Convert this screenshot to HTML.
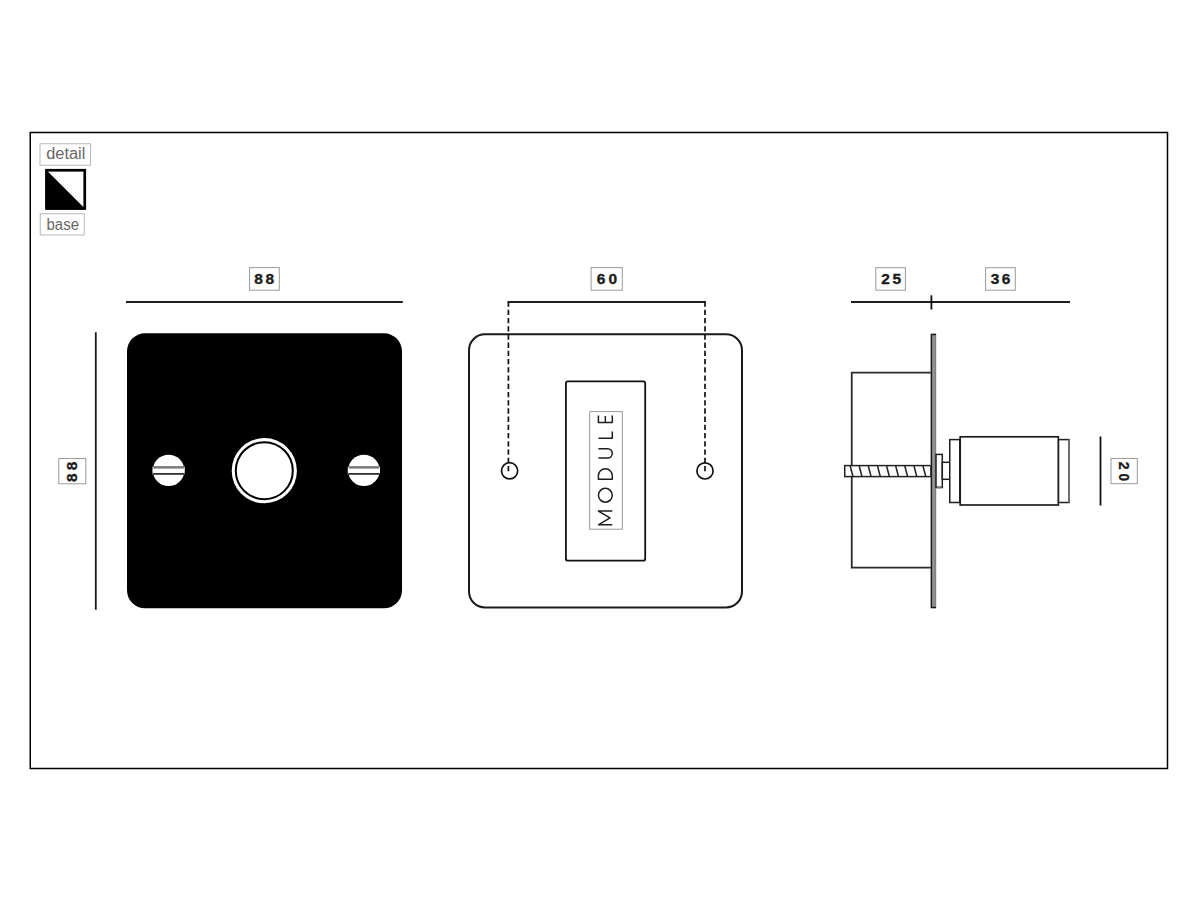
<!DOCTYPE html>
<html>
<head>
<meta charset="utf-8">
<style>
html,body{margin:0;padding:0;background:#fff;width:1200px;height:900px;overflow:hidden;}
svg{display:block;position:absolute;left:0;top:0;}
text{font-family:"Liberation Sans",sans-serif;}
.dim{font-weight:bold;font-size:15.2px;fill:#1c1c1c;stroke:#1c1c1c;stroke-width:0.35px;}
.lg{font-size:16px;fill:#686868;}
</style>
</head>
<body>
<svg width="1200" height="900" viewBox="0 0 1200 900">
  <defs>
    <linearGradient id="pg" x1="0" x2="1" y1="0" y2="0">
      <stop offset="0" stop-color="#b0b0b0"/>
      <stop offset="1" stop-color="#7a7a7a"/>
    </linearGradient>
  </defs>

  <!-- frame -->
  <rect x="30.25" y="132.5" width="1137.25" height="636" fill="none" stroke="#000" stroke-width="1.5"/>

  <!-- legend -->
  <rect x="40" y="143.75" width="50.5" height="21.5" fill="#fff" stroke="#b8b8b8" stroke-width="1"/>
  <text class="lg" x="46.3" y="158.75" textLength="39" lengthAdjust="spacingAndGlyphs">detail</text>
  <rect x="46.65" y="170.25" width="38.1" height="38.1" fill="#fff" stroke="#000" stroke-width="2.7"/>
  <polygon points="45.3,168.9 86.1,209.7 45.3,209.7" fill="#000"/>
  <rect x="40.25" y="213.75" width="44" height="21.25" fill="#fff" stroke="#b8b8b8" stroke-width="1"/>
  <text class="lg" x="46.5" y="229.75" textLength="32.5" lengthAdjust="spacingAndGlyphs">base</text>

  <!-- ===== object 1 : black plate ===== -->
  <line x1="126" y1="302" x2="402.8" y2="302" stroke="#1e1e1e" stroke-width="1.9"/>
  <rect x="249.6" y="267.6" width="29.7" height="22.6" fill="#fff" stroke="#9a9a9a" stroke-width="1"/>
  <text class="dim" transform="translate(254.70,283.60) scale(1.02,1)" x="-0.49" y="0">8</text><text class="dim" transform="translate(266.00,283.60) scale(1.02,1)" x="-0.49" y="0">8</text>

  <line x1="95.8" y1="332.3" x2="95.8" y2="609.8" stroke="#1a1a1a" stroke-width="1.8"/>
  <rect x="58.8" y="458.5" width="27" height="25.3" fill="#fff" stroke="#9a9a9a" stroke-width="1"/>
  <text class="dim" transform="translate(77.4,481.4) rotate(-90) translate(0.00,0.00) scale(1.02,1)" x="-0.49" y="0">8</text><text class="dim" transform="translate(77.4,481.4) rotate(-90) translate(11.60,0.00) scale(1.02,1)" x="-0.49" y="0">8</text>

  <rect x="127" y="333.3" width="275" height="275" rx="18" ry="18" fill="#000"/>
  <!-- screws -->
  <circle cx="168.6" cy="470.4" r="15.7" fill="#fff"/>
  <rect x="152.5" y="466.6" width="32.2" height="8" fill="#fff"/>
  <rect x="153.2" y="466.1" width="30.8" height="2.5" fill="#7a7a7a"/>
  <rect x="152.6" y="473" width="32.2" height="1.8" fill="#333"/>
  <circle cx="363.9" cy="470.4" r="15.7" fill="#fff"/>
  <rect x="347.8" y="466.6" width="32.2" height="8" fill="#fff"/>
  <rect x="348.5" y="466.1" width="30.8" height="2.5" fill="#7a7a7a"/>
  <rect x="347.9" y="473" width="32.2" height="1.8" fill="#333"/>
  <!-- button -->
  <circle cx="264.3" cy="470.7" r="32.6" fill="#fff"/>
  <circle cx="264.3" cy="470.7" r="28.5" fill="none" stroke="#000" stroke-width="2"/>

  <!-- ===== object 2 : outline plate ===== -->
  <rect x="469" y="334.3" width="273" height="273.2" rx="16" ry="16" fill="none" stroke="#1a1a1a" stroke-width="2"/>
  <rect x="565.9" y="381.4" width="79.3" height="179.3" rx="2" ry="2" fill="none" stroke="#111" stroke-width="1.8"/>
  <rect x="589.7" y="411.6" width="32.6" height="117.6" fill="#fff" stroke="#9a9a9a" stroke-width="1"/>
  <g transform="translate(613,525.6) rotate(-90)" fill="none" stroke="#1e1e1e" stroke-width="1.5" stroke-linejoin="round">
    <path d="M0.8,-0.7 V-14.6 L7.65,-3 L14.5,-14.6 V-0.7"/>
    <circle cx="30.35" cy="-7.65" r="6.9"/>
    <path d="M46.3,-14.6 H50 A6.95,6.95 0 0 1 50,-0.7 H46.3 Z"/>
    <path d="M67.6,-14.6 V-5.35 A4.65,4.65 0 0 0 76.9,-5.35 V-14.6"/>
    <path d="M87.4,-14.6 V-0.7 H94.2"/>
    <path d="M110.2,-14.6 H103.1 V-0.7 H110.2 M103.1,-7.65 H109.5"/>
  </g>

  <line x1="507.6" y1="302" x2="705.8" y2="302" stroke="#1e1e1e" stroke-width="1.9"/>
  <line x1="508.4" y1="301.5" x2="508.4" y2="471.8" stroke="#111" stroke-width="1.7" stroke-dasharray="5.3 2.92"/>
  <line x1="705" y1="301.5" x2="705" y2="471.8" stroke="#111" stroke-width="1.7" stroke-dasharray="5.3 2.92"/>
  <circle cx="509.6" cy="470.8" r="8.1" fill="none" stroke="#111" stroke-width="1.7"/>
  <circle cx="705" cy="470.9" r="8.1" fill="none" stroke="#111" stroke-width="1.7"/>
  <rect x="591.1" y="267.6" width="31.2" height="22.6" fill="#fff" stroke="#9a9a9a" stroke-width="1"/>
  <text class="dim" transform="translate(597.20,283.60) scale(1.02,1)" x="-0.56" y="0">6</text><text class="dim" transform="translate(609.00,283.60) scale(1.02,1)" x="-0.61" y="0">0</text>

  <!-- ===== object 3 : side view ===== -->
  <line x1="851" y1="302" x2="1070" y2="302" stroke="#1e1e1e" stroke-width="1.9"/>
  <line x1="931.4" y1="295.3" x2="931.4" y2="309.5" stroke="#111" stroke-width="1.8"/>
  <rect x="875.8" y="267.7" width="29.6" height="22.5" fill="#fff" stroke="#9a9a9a" stroke-width="1"/>
  <text class="dim" transform="translate(881.90,283.60) scale(1.02,1)" x="-0.53" y="0">2</text><text class="dim" transform="translate(892.90,283.60) scale(1.02,1)" x="-0.47" y="0">5</text>
  <rect x="985.6" y="267.7" width="29.7" height="22.5" fill="#fff" stroke="#9a9a9a" stroke-width="1"/>
  <text class="dim" transform="translate(991.20,283.60) scale(1.02,1)" x="-0.35" y="0">3</text><text class="dim" transform="translate(1002.40,283.60) scale(1.02,1)" x="-0.56" y="0">6</text>

  <path d="M931,372.7 H851.75 V567.7 H931" fill="none" stroke="#2a2a2a" stroke-width="1.8"/>

  <!-- thread -->
  <rect x="844.75" y="465.6" width="86" height="11" fill="#fff" stroke="#222" stroke-width="1.5"/>
  <g stroke="#222" stroke-width="1.5">
    <line x1="850.2" y1="466" x2="852.9" y2="476.3"/>
    <line x1="859.2" y1="466" x2="861.9" y2="476.3"/>
    <line x1="868.3" y1="466" x2="871" y2="476.3"/>
    <line x1="877.5" y1="466" x2="880.2" y2="476.3"/>
    <line x1="886.6" y1="466" x2="889.3" y2="476.3"/>
    <line x1="895.7" y1="466" x2="898.4" y2="476.3"/>
    <line x1="904.8" y1="466" x2="907.5" y2="476.3"/>
    <line x1="914" y1="466" x2="916.7" y2="476.3"/>
    <line x1="923" y1="466" x2="925.7" y2="476.3"/>
  </g>

  <!-- plate -->
  <rect x="930.7" y="333.7" width="5.5" height="274.5" fill="url(#pg)"/>
  <path d="M936,334.4 H931.45 V607.5 H936" fill="none" stroke="#1a1a1a" stroke-width="1.5"/>

  <!-- nuts and button -->
  <rect x="936" y="454.4" width="6.3" height="33.1" fill="#fff" stroke="#1e1e1e" stroke-width="1.5"/>
  <line x1="936.75" y1="487.25" x2="941.6" y2="487.25" stroke="#777" stroke-width="2"/>
  <rect x="942.3" y="462.3" width="7.45" height="17" fill="#fff" stroke="#1e1e1e" stroke-width="1.5"/>
  <rect x="949.75" y="439.6" width="10.05" height="62.9" fill="#fff" stroke="#1e1e1e" stroke-width="1.5"/>
  <rect x="1058.4" y="439.6" width="10.6" height="62.9" fill="#fff" stroke="#1e1e1e" stroke-width="1.5"/>
  <line x1="1069" y1="439.6" x2="1069" y2="502.5" stroke="#777" stroke-width="1.5"/>
  <rect x="960.2" y="436.8" width="98.1" height="68.2" fill="#fff" stroke="#1e1e1e" stroke-width="1.7"/>

  <line x1="1100.5" y1="436.5" x2="1100.5" y2="505.5" stroke="#111" stroke-width="1.8"/>
  <rect x="1111" y="458.5" width="26.3" height="25.2" fill="#fff" stroke="#9a9a9a" stroke-width="1"/>
  <text class="dim" transform="translate(1118.8,462.2) rotate(90) translate(0,0) scale(0.93,1)" x="-0.53" y="0">2</text><text class="dim" transform="translate(1118.8,462.2) rotate(90) translate(11.8,0) scale(0.9,1)" x="-0.61" y="0">0</text>
</svg>
</body>
</html>
